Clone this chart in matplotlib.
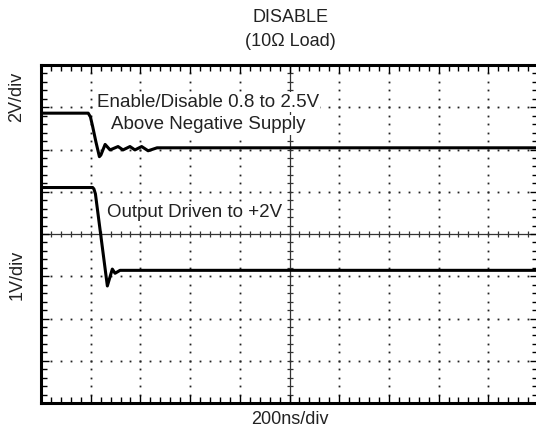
import numpy as np
import matplotlib
matplotlib.use("Agg")
import matplotlib.pyplot as plt
from matplotlib.ticker import MultipleLocator

plt.rcParams['font.family'] = ['Liberation Sans', 'DejaVu Sans']

# scope screen: 10 horizontal divisions of 200ns, 8 vertical divisions
NS_PER_DIV = 200
N_XDIV = 10
N_YDIV = 8

# enable/disable pin (2V/div), position in screen divisions
enable_t = [0, 190, 199, 208, 221, 235, 241, 258, 278, 310, 330, 358, 378, 405, 431, 467, 2000]
enable_div = [6.86, 6.86, 6.77, 6.54, 6.18, 5.83, 5.87, 6.12, 5.99, 6.07, 5.99, 6.07, 5.99, 6.07, 5.97, 6.04, 6.04]

# output driven to +2V (1V/div), position in screen divisions
output_t = [0, 208, 213, 219, 267, 287, 298, 318, 2000]
output_div = [5.10, 5.10, 5.065, 4.95, 2.77, 3.17, 3.07, 3.14, 3.14]

W, H = 536, 434
fig = plt.figure(figsize=(W / 100, H / 100), dpi=100)
ax = fig.add_axes([41 / W, 31 / H, 497 / W, 338 / H])

xmax = N_XDIV * NS_PER_DIV
ax.set_xlim(0, xmax)
ax.set_ylim(0, N_YDIV)

for s in ax.spines.values():
    s.set_linewidth(2.2)

ax.xaxis.set_major_locator(MultipleLocator(NS_PER_DIV))
ax.xaxis.set_minor_locator(MultipleLocator(NS_PER_DIV / 5))
ax.yaxis.set_major_locator(MultipleLocator(1))
ax.yaxis.set_minor_locator(MultipleLocator(0.2))
ax.tick_params(which='both', direction='in', top=True, right=True,
               labelbottom=False, labelleft=False, color='black')
ax.tick_params(which='major', length=6, width=1.0)
ax.tick_params(which='minor', length=4, width=1.0)

# dotted graticule: dots at each minor step along the major lines
xminor = np.arange(0, xmax + 1, NS_PER_DIV / 5)
yminor = np.arange(0, N_YDIV + 0.01, 0.2)
for k in range(1, N_XDIV):
    if k == N_XDIV // 2:
        continue
    ax.plot(np.full(len(yminor), k * NS_PER_DIV), yminor, ls='none',
            marker='s', ms=1.3, mew=0, color='#222222', zorder=1)
for k in range(1, N_YDIV):
    if k == N_YDIV // 2:
        continue
    ax.plot(xminor, np.full(len(xminor), k), ls='none',
            marker='s', ms=1.3, mew=0, color='#222222', zorder=1)

# centre axes with small cross ticks
cx, cy = xmax / 2, N_YDIV / 2
ax.axhline(cy, lw=0.9, color='#333333', zorder=1)
ax.axvline(cx, lw=0.9, color='#333333', zorder=1)
ax.plot(xminor, np.full(len(xminor), cy), ls='none', marker='|', ms=5,
        mew=0.9, color='#333333', zorder=1)
ax.plot(np.full(len(yminor), cx), yminor, ls='none', marker='_', ms=5,
        mew=0.9, color='#333333', zorder=1)

# traces
ax.plot(enable_t, enable_div, color='black', lw=2.2, solid_joinstyle='round', zorder=3)
ax.plot(output_t, output_div, color='black', lw=2.2, solid_joinstyle='round', zorder=3)

# labels sit on a white patch that blanks the graticule behind them
fs = 13
box = dict(facecolor='white', edgecolor='none', pad=1.0)
ax.text(225, 7.12, 'Enable/Disable 0.8 to 2.5V', fontsize=13.5, va='center', ha='left',
        color='#222222', zorder=2, bbox=box)
ax.text(282, 6.58, 'Above Negative Supply', fontsize=13.5, va='center', ha='left',
        color='#222222', zorder=2, bbox=box)
ax.text(266, 4.52, 'Output Driven to +2V', fontsize=13.5, va='center', ha='left',
        color='#222222', zorder=2, bbox=box)

fig.text(290 / W, 1 - 18 / H, 'DISABLE', fontsize=fs, ha='center', va='center', color='#222222')
fig.text(290 / W, 1 - 42 / H, '(10\u03a9 Load)', fontsize=fs, ha='center', va='center', color='#222222')
fig.text(17 / W, 1 - 97 / H, '2V/div', fontsize=fs, rotation=90, ha='center', va='center', color='#222222')
fig.text(17 / W, 1 - 275 / H, '1V/div', fontsize=fs, rotation=90, ha='center', va='center', color='#222222')
fig.text(290 / W, 1 - 419 / H, '200ns/div', fontsize=fs, ha='center', va='center', color='#222222')

fig.savefig('out.png', dpi=100, facecolor='white')
